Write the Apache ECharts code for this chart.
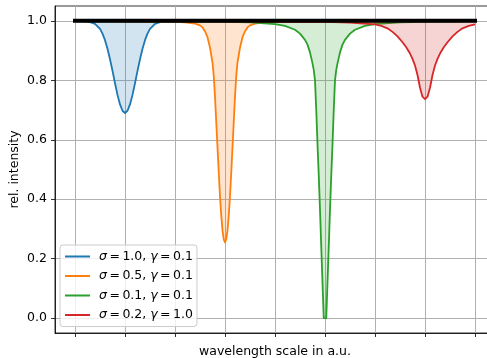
<!DOCTYPE html>
<html>
<head>
<meta charset="utf-8">
<script src="https://cdn.jsdelivr.net/npm/echarts@6/dist/echarts.min.js"></script>
<style>
  html, body { margin: 0; padding: 0; background: #fff; }
  #chart { width: 487px; height: 358px; }
</style>
</head>
<body>
<div id="chart"></div>
<script>
// Absorption line profiles (relative intensity vs. wavelength, arbitrary units)
const labels = ['σ\u2009=\u20091.0, γ\u2009=\u20090.1', 'σ\u2009=\u20090.5, γ\u2009=\u20090.1',
                'σ\u2009=\u20090.1, γ\u2009=\u20090.1', 'σ\u2009=\u20090.2, γ\u2009=\u20091.0'];
const colors = ['#1f77b4', '#ff7f0e', '#2ca02c', '#d62728'];
const fills = ['rgba(31,119,180,0.2)', 'rgba(255,127,14,0.2)', 'rgba(44,160,44,0.2)', 'rgba(214,39,40,0.2)'];

const xTicks = [0, 1, 2, 3, 4, 5, 6, 7, 8];
const yTicks = [0, 0.2, 0.4, 0.6, 0.8, 1.0];

// continuum level
const contX = [0, 8];
const contY = [1.0, 1.0];

// line centred at 1
const blueX = [0, 0.2, 0.3, 0.4, 0.5, 0.55, 0.6, 0.65, 0.7, 0.75, 0.8, 0.85, 0.9, 0.95, 1.0,
               1.05, 1.1, 1.15, 1.2, 1.25, 1.3, 1.35, 1.4, 1.45, 1.5, 1.6, 1.7, 1.8, 2.5, 8];
const blueY = [0.999, 0.998, 0.996, 0.99, 0.973, 0.957, 0.935, 0.906, 0.871, 0.832, 0.79, 0.751, 0.719, 0.6975, 0.69,
               0.6975, 0.719, 0.751, 0.79, 0.832, 0.871, 0.906, 0.935, 0.957, 0.973, 0.99, 0.996, 0.998, 0.999, 1.0];

// line centred at 3
const orangeX = [0, 2.0, 2.2, 2.4, 2.5, 2.55, 2.6, 2.65, 2.7, 2.75, 2.775, 2.8, 2.825, 2.85, 2.875, 2.9, 2.925, 2.95, 2.975, 3.0,
                 3.025, 3.05, 3.075, 3.1, 3.125, 3.15, 3.175, 3.2, 3.225, 3.25, 3.3, 3.35, 3.4, 3.45, 3.5, 3.6, 3.8, 4.0, 8];
const orangeY = [0.999, 0.997, 0.995, 0.991, 0.985, 0.978, 0.965, 0.945, 0.91, 0.86, 0.815, 0.745, 0.66, 0.575, 0.49, 0.41, 0.345, 0.295, 0.265, 0.255,
                 0.265, 0.295, 0.345, 0.41, 0.49, 0.575, 0.66, 0.745, 0.815, 0.86, 0.91, 0.945, 0.965, 0.978, 0.985, 0.991, 0.995, 0.997, 0.999];

// line centred at 5
const greenX = [0, 3.0, 3.5, 4.0, 4.2, 4.4, 4.5, 4.6, 4.65, 4.7, 4.75, 4.775, 4.8, 4.825, 4.85, 4.875, 4.9, 4.925, 4.95, 4.975, 5.0,
                5.025, 5.05, 5.075, 5.1, 5.125, 5.15, 5.175, 5.2, 5.225, 5.25, 5.3, 5.35, 5.4, 5.5, 5.6, 5.8, 6.0, 6.5, 7.0, 8];
const greenY = [0.998, 0.997, 0.995, 0.989, 0.983, 0.97, 0.957, 0.936, 0.92, 0.894, 0.857, 0.835, 0.8, 0.7, 0.585, 0.48, 0.365, 0.24, 0.12, 0.0, 0.0,
                0.0, 0.12, 0.24, 0.365, 0.48, 0.585, 0.7, 0.8, 0.835, 0.857, 0.894, 0.92, 0.936, 0.957, 0.97, 0.983, 0.989, 0.995, 0.997, 0.998];

// line centred at 7
const redX = [0, 5.0, 5.5, 6.0, 6.125, 6.25, 6.35, 6.45, 6.55, 6.625, 6.7, 6.75, 6.8, 6.85, 6.9, 6.95, 7.0,
              7.05, 7.1, 7.15, 7.2, 7.25, 7.3, 7.375, 7.45, 7.55, 7.65, 7.75, 7.875, 8.0];
const redY = [0.999, 0.997, 0.994, 0.988, 0.983, 0.975, 0.963, 0.948, 0.928, 0.911, 0.89, 0.872, 0.85, 0.818, 0.775, 0.745, 0.737,
              0.745, 0.775, 0.818, 0.85, 0.872, 0.89, 0.911, 0.928, 0.948, 0.963, 0.975, 0.983, 0.988];

const profiles = [[blueX, blueY], [orangeX, orangeY], [greenX, greenY], [redX, redY]];
const pairs = (xs, ys) => xs.map((x, i) => [x, ys[i]]);

const FONT = 'DejaVu Sans';
const FS = 12.5;

const chart = echarts.init(document.getElementById('chart'), null, { renderer: 'canvas' });

const series = profiles.map((p, k) => ({
  name: labels[k],
  type: 'line',
  data: pairs(p[0], p[1]),
  symbol: 'none',
  showSymbol: false,
  lineStyle: { color: colors[k], width: 1.8, join: 'round' },
  itemStyle: { color: colors[k] },
  areaStyle: { color: fills[k], origin: 1, opacity: 1 },
  z: 2 + k,
  animation: false
}));

series.push({
  name: 'continuum',
  type: 'line',
  data: pairs(contX, contY),
  symbol: 'none',
  lineStyle: { color: '#000', width: 4, cap: 'square' },
  z: 10,
  animation: false
});

chart.setOption({
  animation: false,
  backgroundColor: '#fff',
  textStyle: { fontFamily: FONT },
  grid: {
    left: 55, top: 6, width: 440, height: 327,
    outerBoundsMode: 'none',
    containLabel: false,
    show: true, borderColor: '#000', borderWidth: 0.8, backgroundColor: 'transparent'
  },
  legend: {
    data: labels,
    orient: 'vertical',
    left: 60, top: 245,
    itemWidth: 25, itemHeight: 2,
    itemGap: 5.5,
    icon: 'rect',
    padding: [4.5, 4, 4.5, 5],
    backgroundColor: 'rgba(255,255,255,0.8)',
    borderColor: '#cccccc', borderWidth: 1, borderRadius: 3,
    selectedMode: false,
    formatter: n => n.replace('σ', '{i|σ}').replace('γ', '{i|γ}'),
    textStyle: {
      fontFamily: FONT, fontSize: FS, color: '#000', lineHeight: 14,
      padding: [0, 0, 0, 4],
      rich: { i: { fontFamily: FONT, fontSize: FS, fontStyle: 'italic', color: '#000', lineHeight: 14 } }
    }
  },
  xAxis: {
    type: 'value',
    min: -0.4, max: 8.4,
    splitNumber: 8,
    name: 'wavelength scale in a.u.',
    nameLocation: 'middle',
    nameGap: 12,
    nameMoveOverlap: false,
    nameTextStyle: { fontFamily: FONT, fontSize: FS, color: '#000' },
    axisLine: { show: true, onZero: false, lineStyle: { color: '#000', width: 0.8 } },
    axisTick: { show: true, length: 4, customValues: xTicks, lineStyle: { color: '#000', width: 0.8 } },
    axisLabel: { show: false },
    splitLine: { show: true, lineStyle: { color: '#b0b0b0', width: 1 } }
  },
  yAxis: {
    type: 'value',
    min: -0.05, max: 1.05,
    splitNumber: 5,
    name: 'rel. intensity',
    nameLocation: 'middle',
    nameGap: 34,
    nameMoveOverlap: false,
    nameTextStyle: { fontFamily: FONT, fontSize: FS, color: '#000' },
    axisLine: { show: true, onZero: false, lineStyle: { color: '#000', width: 0.8 } },
    axisTick: { show: true, length: 4, customValues: yTicks, lineStyle: { color: '#000', width: 0.8 } },
    axisLabel: {
      customValues: yTicks,
      fontFamily: FONT, fontSize: FS, color: '#000', margin: 8,
      formatter: v => Number(v).toFixed(1)
    },
    splitLine: { show: true, lineStyle: { color: '#b0b0b0', width: 1 } }
  },
  series: series
});
</script>
</body>
</html>
